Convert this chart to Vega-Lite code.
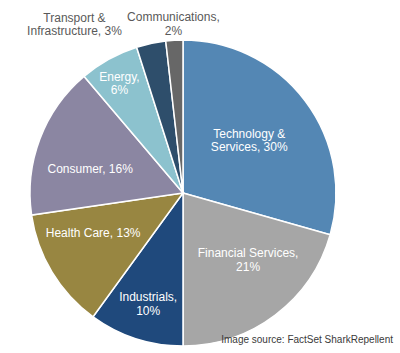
{
  "$schema": "https://vega.github.io/schema/vega-lite/v6.json",
  "width": 366,
  "height": 306,
  "autosize": {"type": "none"},
  "padding": {"left": 0, "top": 40, "right": 34, "bottom": 7},
  "background": "white",
  "title": {
    "text": "Image source: FactSet SharkRepellent",
    "orient": "bottom",
    "anchor": "end",
    "offset": 0,
    "dx": 27,
    "dy": -10,
    "baseline": "alphabetic",
    "font": "Liberation Sans",
    "fontSize": 10,
    "fontWeight": "normal",
    "color": "#3a3a3a"
  },
  "config": {"view": {"stroke": null}},
  "data": {
    "values": [
      {"sector": "Technology & Services", "order": 1, "value": 29.4, "label": "Technology &\nServices, 30%"},
      {"sector": "Financial Services", "order": 2, "value": 20.6, "label": "Financial Services,\n21%"},
      {"sector": "Industrials", "order": 3, "value": 10.0, "label": "Industrials,\n10%"},
      {"sector": "Health Care", "order": 4, "value": 12.7, "label": "Health Care, 13%"},
      {"sector": "Consumer", "order": 5, "value": 16.1, "label": "Consumer, 16%"},
      {"sector": "Energy", "order": 6, "value": 6.3, "label": "Energy,\n6%"},
      {"sector": "Transport & Infrastructure", "order": 7, "value": 3.1, "label": "Transport &\nInfrastructure, 3%"},
      {"sector": "Communications", "order": 8, "value": 1.8, "label": "Communications,\n2%"}
    ]
  },
  "encoding": {
    "theta": {"field": "value", "type": "quantitative", "stack": true},
    "order": {"field": "order", "type": "quantitative"}
  },
  "layer": [
    {
      "mark": {"type": "arc", "outerRadius": 153, "stroke": "white", "strokeWidth": 1.5},
      "encoding": {
        "color": {
          "field": "sector",
          "type": "nominal",
          "legend": null,
          "scale": {
            "domain": ["Technology & Services", "Financial Services", "Industrials", "Health Care", "Consumer", "Energy", "Transport & Infrastructure", "Communications"],
            "range": ["#5487b4", "#a6a6a6", "#1f497c", "#988641", "#8b86a2", "#8cc2ce", "#2e4e6b", "#676767"]
          }
        }
      }
    },
    {
      "mark": {"type": "text", "radius": 83, "dy": -9, "font": "Liberation Sans", "fontSize": 12, "lineHeight": 13.5, "lineBreak": "\n", "fill": "white", "align": "center", "baseline": "middle"},
      "encoding": {"text": {"condition": {"test": "datum.sector === 'Technology & Services'", "field": "label"}, "value": ""}}
    },
    {
      "mark": {"type": "text", "radius": 93, "dx": 9, "dy": -14, "font": "Liberation Sans", "fontSize": 12, "lineHeight": 13.5, "lineBreak": "\n", "fill": "white", "align": "center", "baseline": "middle"},
      "encoding": {"text": {"condition": {"test": "datum.sector === 'Financial Services'", "field": "label"}, "value": ""}}
    },
    {
      "mark": {"type": "text", "radius": 116, "dx": 1, "dy": -6, "font": "Liberation Sans", "fontSize": 12, "lineHeight": 13.5, "lineBreak": "\n", "fill": "white", "align": "center", "baseline": "middle"},
      "encoding": {"text": {"condition": {"test": "datum.sector === 'Industrials'", "field": "label"}, "value": ""}}
    },
    {
      "mark": {"type": "text", "radius": 98, "dx": -6, "dy": -11, "font": "Liberation Sans", "fontSize": 12, "lineHeight": 13.5, "lineBreak": "\n", "fill": "white", "align": "center", "baseline": "middle"},
      "encoding": {"text": {"condition": {"test": "datum.sector === 'Health Care'", "field": "label"}, "value": ""}}
    },
    {
      "mark": {"type": "text", "radius": 96, "dx": -3, "dy": 10, "font": "Liberation Sans", "fontSize": 12, "lineHeight": 13.5, "lineBreak": "\n", "fill": "white", "align": "center", "baseline": "middle"},
      "encoding": {"text": {"condition": {"test": "datum.sector === 'Consumer'", "field": "label"}, "value": ""}}
    },
    {
      "mark": {"type": "text", "radius": 127, "dx": -2, "dy": -5, "font": "Liberation Sans", "fontSize": 12, "lineHeight": 13.5, "lineBreak": "\n", "fill": "white", "align": "center", "baseline": "middle"},
      "encoding": {"text": {"condition": {"test": "datum.sector === 'Energy'", "field": "label"}, "value": ""}}
    },
    {
      "mark": {"type": "text", "radius": 170, "dx": -73, "dy": -9, "font": "Liberation Sans", "fontSize": 12, "lineHeight": 13.5, "lineBreak": "\n", "fill": "#595959", "align": "center", "baseline": "middle"},
      "encoding": {"text": {"condition": {"test": "datum.sector === 'Transport & Infrastructure'", "field": "label"}, "value": ""}}
    },
    {
      "mark": {"type": "text", "radius": 169, "dy": -7, "font": "Liberation Sans", "fontSize": 12, "lineHeight": 13.5, "lineBreak": "\n", "fill": "#595959", "align": "center", "baseline": "middle"},
      "encoding": {"text": {"condition": {"test": "datum.sector === 'Communications'", "field": "label"}, "value": ""}}
    }
  ]
}
